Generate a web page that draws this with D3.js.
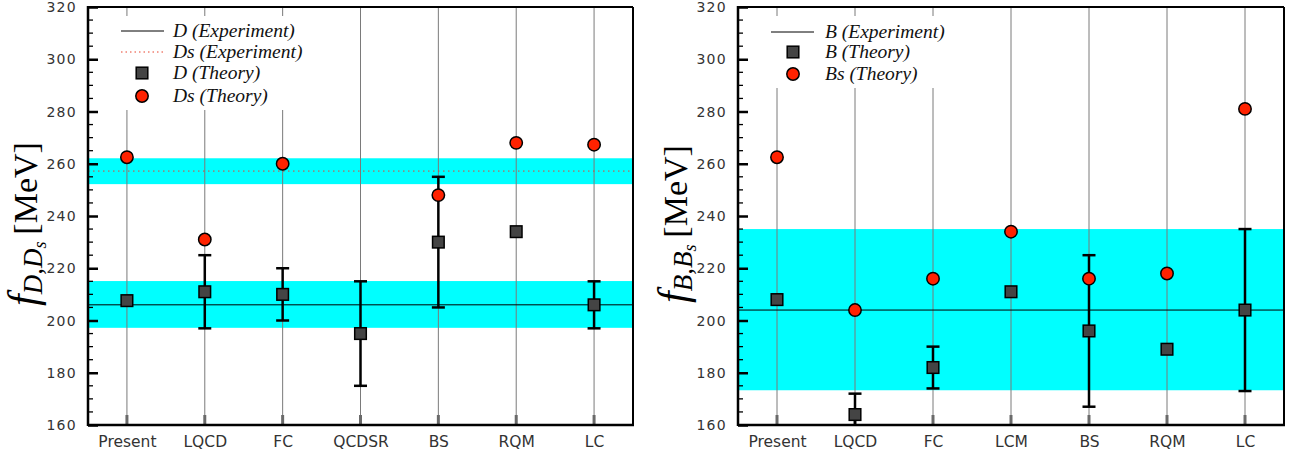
<!DOCTYPE html>
<html>
<head>
<meta charset="utf-8">
<script src="https://cdn.jsdelivr.net/npm/d3@7"></script>
<style>
  body { margin: 0; background: #fff; }
  svg { display: block; }
  .serif { font-family: "Liberation Serif", "Times New Roman", "DejaVu Serif", serif; }
</style>
</head>
<body>
<svg id="chart" width="1299" height="458"></svg>
<script>
// ---------------- data ----------------
const leftCats   = ["Present", "LQCD", "FC", "QCDSR", "BS", "RQM", "LC"];
const leftD      = [207.6, 211, 210, 195, 230, 234, 206];
const leftDErrLo = [null, 197, 200, 175, 205, null, 197];
const leftDErrHi = [null, 225, 220, 215, 255, null, 215];
const leftDs     = [262.5, 231, 260, null, 248, 268, 267.3];
const dExp = 206,   dExpLo = 197.2,  dExpHi = 215.1;
const dsExp = 257.2, dsExpLo = 252.2, dsExpHi = 262.1;

const rightCats   = ["Present", "LQCD", "FC", "LCM", "BS", "RQM", "LC"];
const rightB      = [208, 164, 182, 211, 196, 189, 204];
const rightBErrLo = [null, 156, 174, null, 167, null, 173];
const rightBErrHi = [null, 172, 190, null, 225, null, 235];
const rightBs     = [262.5, 204, 216, 234, 216, 218, 281];
const bExp = 204, bExpLo = 173.3, bExpHi = 235;

const yTicks = [160, 180, 200, 220, 240, 260, 280, 300, 320];
const leftLegend  = ["D (Experiment)", "Ds (Experiment)", "D (Theory)", "Ds (Theory)"];
const rightLegend = ["B (Experiment)", "B (Theory)", "Bs (Theory)"];

// ---------------- drawing ----------------
const svg = d3.select("#chart");
const plotTop = 7, plotBottom = 425;

function panel(opts) {
  const { x0, x1, cats, sq, lo, hi, circ, bands, lines, legend, legendBox, idx, sub } = opts;
  const g = svg.append("g");
  const x = d3.scalePoint().domain(cats).range([x0, x1]).padding(0.5);
  const y = d3.scaleLinear().domain([160, 320]).range([plotBottom, plotTop]);

  const clipId = "clip" + idx;
  svg.append("clipPath").attr("id", clipId)
    .append("rect").attr("x", x0).attr("y", plotTop).attr("width", x1 - x0).attr("height", plotBottom - plotTop);
  const plot = g.append("g").attr("clip-path", `url(#${clipId})`);

  // cyan bands
  bands.forEach(b => {
    plot.append("rect").attr("x", x0).attr("width", x1 - x0)
      .attr("y", y(b[1])).attr("height", y(b[0]) - y(b[1]))
      .attr("fill", "#00ffff");
  });

  // vertical category lines
  plot.selectAll(".vl").data(cats).enter().append("line")
    .attr("x1", d => x(d)).attr("x2", d => x(d))
    .attr("y1", plotTop).attr("y2", plotBottom)
    .attr("stroke", "#7a7a7a").attr("stroke-width", 1);
  // bottom thick tick segments
  plot.selectAll(".bt").data(cats).enter().append("line")
    .attr("x1", d => x(d)).attr("x2", d => x(d))
    .attr("y1", plotBottom - 10).attr("y2", plotBottom)
    .attr("stroke", "#6a6a6a").attr("stroke-width", 3);

  // experiment lines
  lines.forEach(l => {
    plot.append("line").attr("x1", x0).attr("x2", x1)
      .attr("y1", y(l.v)).attr("y2", y(l.v))
      .attr("stroke", l.color).attr("stroke-width", 1)
      .attr("stroke-dasharray", l.dash || null);
  });

  // legend white box
  plot.append("rect").attr("x", legendBox[0]).attr("y", legendBox[1])
    .attr("width", legendBox[2]).attr("height", legendBox[3]).attr("fill", "#fff");

  // error bars
  const eb = cats.map((c, i) => ({ c, lo: lo[i], hi: hi[i] })).filter(d => d.lo != null);
  const ebg = plot.append("g").attr("stroke", "#000").attr("stroke-width", 2.5);
  eb.forEach(d => {
    ebg.append("line").attr("x1", x(d.c)).attr("x2", x(d.c)).attr("y1", y(d.lo)).attr("y2", y(d.hi));
    [d.lo, d.hi].forEach(v => {
      ebg.append("line").attr("x1", x(d.c) - 6.5).attr("x2", x(d.c) + 6.5)
        .attr("y1", y(v)).attr("y2", y(v));
    });
  });

  // squares
  const sqd = cats.map((c, i) => ({ c, v: sq[i] })).filter(d => d.v != null);
  plot.selectAll(".sq").data(sqd).enter().append("rect")
    .attr("x", d => x(d.c) - 5.8).attr("y", d => y(d.v) - 5.8)
    .attr("width", 11.6).attr("height", 11.6)
    .attr("fill", "#444").attr("stroke", "#000").attr("stroke-width", 1.5);

  // circles
  const cd = cats.map((c, i) => ({ c, v: circ[i] })).filter(d => d.v != null);
  plot.selectAll(".ci").data(cd).enter().append("circle")
    .attr("cx", d => x(d.c)).attr("cy", d => y(d.v)).attr("r", 6.2)
    .attr("fill", "#ff2200").attr("stroke", "#000").attr("stroke-width", 1.5);

  // frame
  g.append("line").attr("x1", x0).attr("x2", x1).attr("y1", plotTop).attr("y2", plotTop)
    .attr("stroke", "#000").attr("stroke-width", 2);
  g.append("line").attr("x1", x1).attr("x2", x1).attr("y1", plotTop).attr("y2", plotBottom)
    .attr("stroke", "#000").attr("stroke-width", 2);

  // y axis
  const ya = g.append("g").attr("transform", `translate(${x0},0)`)
    .call(d3.axisRight(y).tickValues(yTicks).tickSize(10).tickFormat(""));
  ya.select(".domain").remove();
  ya.selectAll(".tick line").attr("stroke", "#000").attr("stroke-width", 2.5);
  const minor = d3.range(160, 321, 5).filter(v => v % 20 !== 0);
  g.selectAll(".mt" + idx).data(minor).enter().append("line")
    .attr("x1", x0).attr("x2", x0 + 5).attr("y1", d => y(d)).attr("y2", d => y(d))
    .attr("stroke", "#000").attr("stroke-width", 1.3);
  g.selectAll(".yl" + idx).data(yTicks).enter().append("text")
    .attr("x", x0 - 11).attr("y", d => y(d) + 5)
    .attr("text-anchor", "end")
    .attr("font-family", "DejaVu Sans").attr("font-size", 14)
    .attr("letter-spacing", 1.3)
    .attr("fill", "#333").text(d => d);
  g.append("line").attr("x1", x0).attr("x2", x0).attr("y1", plotTop - 1).attr("y2", plotBottom + 1)
    .attr("stroke", "#000").attr("stroke-width", 2.5);
  g.append("line").attr("x1", x0).attr("x2", x1 + 1).attr("y1", plotBottom).attr("y2", plotBottom)
    .attr("stroke", "#000").attr("stroke-width", 2.5);

  // x labels
  const xa = g.append("g").attr("transform", `translate(0,${plotBottom})`)
    .call(d3.axisBottom(x).tickSize(0).tickPadding(11));
  xa.select(".domain").remove();
  xa.selectAll("text").attr("font-family", "DejaVu Sans").attr("font-size", 15.5)
    .attr("fill", "#333");

  // y label
  const lab = g.append("text").attr("class", "serif")
    .attr("transform", `translate(${x0 - 51},${224}) rotate(-90)`)
    .attr("text-anchor", "middle")
    .attr("fill", "#000");
  lab.append("tspan").attr("font-style", "italic").attr("font-size", 42).text("f");
  lab.append("tspan").attr("font-style", "italic").attr("font-size", 27).attr("dy", 5).text(sub[0]);
  lab.append("tspan").attr("font-style", "italic").attr("font-size", 18).attr("dy", 4).text(sub[1]);
  lab.append("tspan").attr("font-size", 34).attr("dy", -9).text("\u2009[MeV]");

  // legend
  const lg = g.append("g").attr("class", "serif")
    .attr("font-style", "italic").attr("font-size", 19.5).attr("fill", "#111");
  legend.forEach((e, i) => {
    const cy = e.cy;
    if (e.type === "line") {
      lg.append("line").attr("x1", e.lx0).attr("x2", e.lx1).attr("y1", cy).attr("y2", cy)
        .attr("stroke", e.color).attr("stroke-width", 1).attr("stroke-dasharray", e.dash || null);
    } else if (e.type === "sq") {
      lg.append("rect").attr("x", e.mx - 5.8).attr("y", cy - 5.8).attr("width", 11.6).attr("height", 11.6)
        .attr("fill", "#444").attr("stroke", "#000").attr("stroke-width", 1.5);
    } else {
      lg.append("circle").attr("cx", e.mx).attr("cy", cy).attr("r", 6.2)
        .attr("fill", "#ff2200").attr("stroke", "#000").attr("stroke-width", 1.5);
    }
    lg.append("text").attr("x", e.tx).attr("y", cy + 6).text(e.label);
  });
}

panel({
  idx: 0, x0: 88, x1: 633, cats: leftCats,
  sq: leftD, lo: leftDErrLo, hi: leftDErrHi, circ: leftDs,
  bands: [[dsExpLo, dsExpHi], [dExpLo, dExpHi]],
  lines: [{ v: dExp, color: "#000" }, { v: dsExp, color: "#e8402a", dash: "1.5,3.5" }],
  legendBox: [105, 16, 205, 94],
  sub: ["D,D", "s"],
  legend: [
    { type: "line", label: leftLegend[0], cy: 31, lx0: 121, lx1: 164, tx: 173, color: "#000" },
    { type: "line", label: leftLegend[1], cy: 52, lx0: 121, lx1: 164, tx: 173, color: "#e8402a", dash: "1.5,3" },
    { type: "sq",   label: leftLegend[2], cy: 73, mx: 142, tx: 173 },
    { type: "circ", label: leftLegend[3], cy: 96, mx: 142, tx: 173 }
  ]
});

panel({
  idx: 1, x0: 738, x1: 1284, cats: rightCats,
  sq: rightB, lo: rightBErrLo, hi: rightBErrHi, circ: rightBs,
  bands: [[bExpLo, bExpHi]],
  lines: [{ v: bExp, color: "#000" }],
  legendBox: [755, 16, 200, 72],
  sub: ["B,B", "s"],
  legend: [
    { type: "line", label: rightLegend[0], cy: 32, lx0: 771, lx1: 814, tx: 825, color: "#000" },
    { type: "sq",   label: rightLegend[1], cy: 52, mx: 793, tx: 825 },
    { type: "circ", label: rightLegend[2], cy: 74, mx: 793, tx: 825 }
  ]
});
</script>
</body>
</html>
